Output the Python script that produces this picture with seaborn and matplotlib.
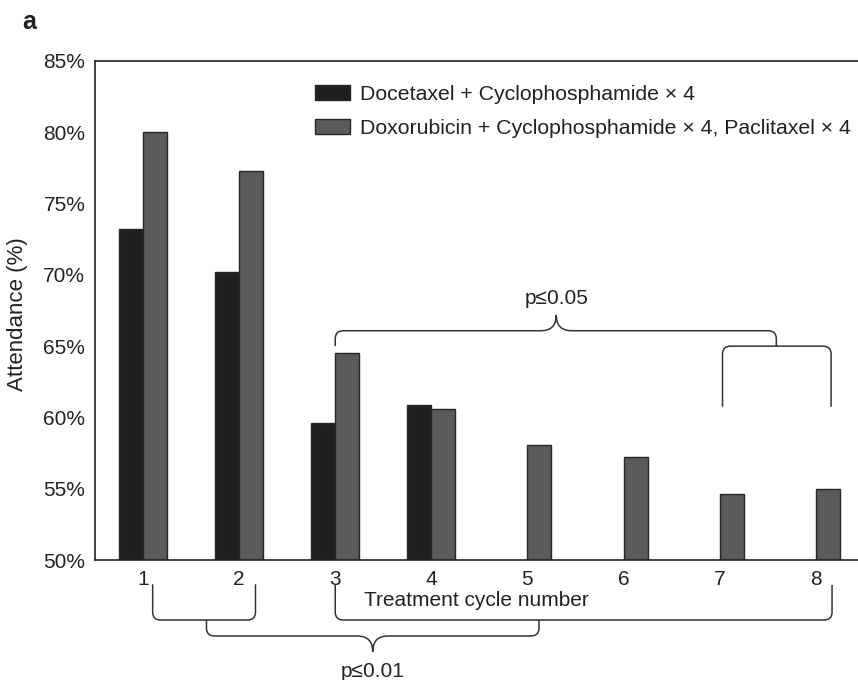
import numpy as np
import pandas as pd
import matplotlib
matplotlib.use("Agg")
import matplotlib.pyplot as plt
from matplotlib.path import Path
from matplotlib.patches import PathPatch
from matplotlib.ticker import PercentFormatter
import seaborn as sns

# Attendance per treatment cycle (%)
cycles = ["1", "2", "3", "4", "5", "6", "7", "8"]
tc_label = "Docetaxel + Cyclophosphamide \u00d7 4"
acp_label = "Doxorubicin + Cyclophosphamide \u00d7 4, Paclitaxel \u00d7 4"
tc_attendance = [73.2, 70.2, 59.6, 60.9, np.nan, np.nan, np.nan, np.nan]
acp_attendance = [80.0, 77.3, 64.5, 60.6, 58.1, 57.2, 54.6, 55.0]
y_ticks = [50, 55, 60, 65, 70, 75, 80, 85]

sns.set_theme(style="white")
plt.rcParams["font.family"] = ["Liberation Sans", "DejaVu Sans"]
TXT = "#222222"
plt.rcParams["text.color"] = TXT
plt.rcParams["axes.labelcolor"] = TXT
plt.rcParams["xtick.color"] = TXT
plt.rcParams["ytick.color"] = TXT

df = pd.DataFrame({
    "cycle": cycles * 2,
    "regimen": [tc_label] * len(cycles) + [acp_label] * len(cycles),
    "attendance": tc_attendance + acp_attendance,
})

W, H = 858, 680
fig = plt.figure(figsize=(W / 100, H / 100), dpi=100)
ax = fig.add_axes([95 / W, (H - 560) / H, 763 / W, 499 / H])

sns.barplot(data=df, x="cycle", y="attendance", hue="regimen",
            order=cycles, hue_order=[tc_label, acp_label],
            palette=["#1f2023", "#5b5b5d"], width=0.5, gap=0,
            edgecolor="#262626", linewidth=1.0, ax=ax)

ax.set_xlim(-0.5, 7.44)
ax.set_ylim(50, 85)
ax.set_yticks(y_ticks)
ax.yaxis.set_major_formatter(PercentFormatter(decimals=0))
ax.tick_params(axis="both", length=0, labelsize=15, pad=7)

for side in ["left", "top", "bottom"]:
    ax.spines[side].set_color("#222222")
    ax.spines[side].set_linewidth(1.2)
ax.spines["right"].set_visible(False)

ax.set_xlabel("Treatment cycle number", fontsize=15)
ax.xaxis.label.set_va("center")
ax.xaxis.set_label_coords(0.5, (560 - 601) / 499)
ax.set_ylabel("Attendance (%)", fontsize=16)
ax.yaxis.label.set_va("center")
ax.yaxis.set_label_coords((17.5 - 95) / 763, (560 - 314) / 499)

handles, labels = ax.get_legend_handles_labels()
ax.legend(handles, labels, loc="upper left",
          bbox_to_anchor=(315 / W, 1 - 85 / H), bbox_transform=fig.transFigure,
          frameon=False, fontsize=15.3, handlelength=1.65, handleheight=0.66,
          handletextpad=0.47, labelspacing=0.70, borderpad=0, borderaxespad=0)

# Significance brackets, in data coordinates
RX, RY = 0.085, 0.55
LINE = dict(facecolor="none", edgecolor="#333333", linewidth=1.1, clip_on=False)


def bracket_path(x0, x1, y_end, y_bar, tip=None, xc=None):
    s = 1 if y_bar > y_end else -1
    verts = [(x0, y_end), (x0, y_bar - s * RY), (x0, y_bar), (x0 + RX, y_bar)]
    codes = [Path.MOVETO, Path.LINETO, Path.CURVE3, Path.CURVE3]
    if tip is not None:
        dx = 0.16
        verts += [(xc - dx, y_bar), (xc, y_bar), (xc, tip),
                  (xc, y_bar), (xc + dx, y_bar)]
        codes += [Path.LINETO, Path.CURVE3, Path.CURVE3,
                  Path.CURVE3, Path.CURVE3]
    verts += [(x1 - RX, y_bar), (x1, y_bar), (x1, y_bar - s * RY), (x1, y_end)]
    codes += [Path.LINETO, Path.CURVE3, Path.CURVE3, Path.LINETO]
    return Path(verts, codes)


# p <= 0.05 group (cycles 3 to 8)
ax.add_patch(PathPatch(bracket_path(2.0, 6.59, 65.0, 66.08, tip=67.18, xc=4.30), **LINE))
ax.add_patch(PathPatch(bracket_path(6.03, 7.16, 60.75, 65.0), **LINE))
ax.text(4.30, 68.37, "p\u22640.05", ha="center", va="center", fontsize=15)

# p <= 0.01 group (cycles 1-2 vs 3-8)
ax.add_patch(PathPatch(bracket_path(0.10, 1.17, 48.30, 45.79), **LINE))
ax.add_patch(PathPatch(bracket_path(2.0, 7.17, 48.25, 45.79), **LINE))
ax.add_patch(PathPatch(bracket_path(0.66, 4.12, 45.79, 44.67, tip=43.57, xc=2.39), **LINE))
ax.text(2.39, 42.17, "p\u22640.01", ha="center", va="center", fontsize=15)

fig.text(29 / W, 1 - 22 / H, "a", ha="center", va="center",
         fontsize=18, fontweight="bold")

fig.savefig("out.png", dpi=100)
